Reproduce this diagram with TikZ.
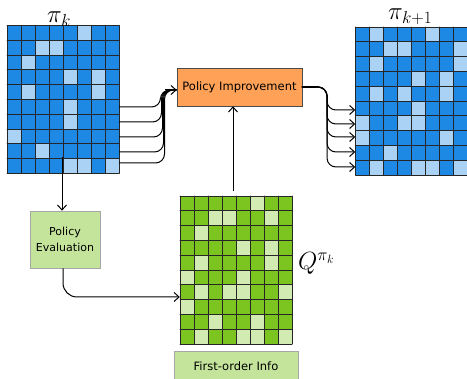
\documentclass[tikz,border=0pt]{standalone}
\usepackage[no-math]{fontspec}
\setmainfont{DejaVu Sans}
\usetikzlibrary{arrows.meta}

\definecolor{blueD}{HTML}{1E88E5}
\definecolor{blueL}{HTML}{A9D2F5}
\definecolor{greenD}{HTML}{7CC41F}
\definecolor{greenL}{HTML}{D2EBB3}
\definecolor{orangeBox}{HTML}{FFA257}
\definecolor{greenBox}{HTML}{C3E49A}

% 8 x 10 grid of cells: #1,#2 top-left corner, #3 dark colour, #4 light colour, #5 light cells (row/col)
\newcommand\cellgrid[5]{%
  \foreach \r in {0,...,9}{%
    \foreach \c in {0,...,7}{%
      \fill[#3] ({#1+\c*14},{#2+\r*14.8}) rectangle ++(14,14.8);}}
  \foreach \r/\c in {#5}{%
    \fill[#4] ({#1+\c*14},{#2+\r*14.8}) rectangle ++(14,14.8);}
  \foreach \i in {0,...,8}{\draw[cellline] ({#1+\i*14},#2) -- ++(0,148);}
  \foreach \i in {0,...,10}{\draw[cellline] (#1,{#2+\i*14.8}) -- ++(112,0);}
}

\begin{document}
\begin{tikzpicture}[x=1pt,y=-1pt,
  cellline/.style={black!85,line width=0.9pt,line cap=round},
  gridframe/.style={minimum width=112pt,minimum height=148pt,inner sep=0pt},
  pibox/.style={draw=black!70,fill=orangeBox,line width=0.6pt,minimum width=125pt,minimum height=38pt,font=\fontsize{11.5}{13}\selectfont},
  pebox/.style={draw=black!35,fill=greenBox,line width=0.6pt,minimum width=70pt,minimum height=57pt,align=center,font=\fontsize{11}{15.5}\selectfont},
  fobox/.style={draw=black!35,fill=greenBox,line width=0.6pt,minimum width=124pt,minimum height=31pt,font=\fontsize{11.5}{13}\selectfont},
  conn/.style={line width=1pt,black},
  arr/.style={conn,-{Straight Barb[length=5pt,width=9pt]}},
  mathlbl/.style={font=\fontsize{24}{28}\selectfont,inner sep=0pt,anchor=base west}]
\useasboundingbox (0,0) rectangle (467,379);

% policy grids and Q grid
\node[gridframe] (Lgrid) at (63,99.5) {};
\cellgrid{7}{25.5}{blueD}{blueL}{0/5,1/2,1/3,2/1,3/4,3/6,4/1,4/6,5/4,6/4,7/0,8/2,9/4,9/5,9/7}
\node[gridframe] (Rgrid) at (411.5,101) {};
\cellgrid{355.5}{27}{blueD}{blueL}{0/1,0/5,1/2,1/3,1/7,2/1,2/7,3/4,3/6,4/1,4/3,4/6,5/4,6/0,6/3,6/4,7/0,7/6,8/2,9/1,9/4,9/5,9/7}
\node[gridframe] (Ggrid) at (236,270) {};
\cellgrid{180}{196}{greenD}{greenL}{0/5,1/2,1/3,1/6,2/1,3/4,3/6,4/1,4/6,5/0,5/4,6/1,6/3,6/4,6/7,7/0,8/2,8/5,9/1,9/4,9/5,9/7}

% labels
\node[mathlbl] (piK) at (47,22.5) {$\pi_k$};
\node[mathlbl] (piK1) at (388,19.5) {$\pi_{k+1}$};
\node[mathlbl] (Qlbl) at (298,270) {$Q^{\pi_k}$};

% boxes
\node[pibox] (PI) at (239.5,87) {Policy Improvement};
\node[pebox] (PE) at (65,239.5) {Policy\\Evaluation};
\node[fobox] (FO) at (236,366.5) {First-order Info};

% fan-in from the current policy
\foreach \yy/\xx in {107/160.5,122/161.5,137/162.5,152/163.5,163/164.5}{
  \draw[conn,rounded corners=9pt] (Lgrid.east |- 0,\yy) -| (\xx,90) -- (PI.west |- 0,90);
}
\draw[arr] (165,90) -- (PI.west |- 0,90);

% fan-out to the improved policy
\foreach \yy in {110,124,137,152,167}{
  \draw[arr,rounded corners=9pt] (PI.east |- 0,87) -| (327,\yy) -- (Rgrid.west |- 0,\yy);
}
\draw[line width=2.2pt,line cap=round] (PI.east |- 0,87) -- (316,87);

% evaluation path
\coordinate (Ldrop) at (62,157);
\draw[arr] (Ldrop) -- (PE.north -| Ldrop);
\draw[arr,rounded corners=14pt] (PE.south -| 63,0) |- (Ggrid.west |- 0,297);

% Q values feed the improvement step
\coordinate (Gtop) at (233,191);
\draw[arr] (Gtop) -- (PI.south -| Gtop);
\end{tikzpicture}
\end{document}
